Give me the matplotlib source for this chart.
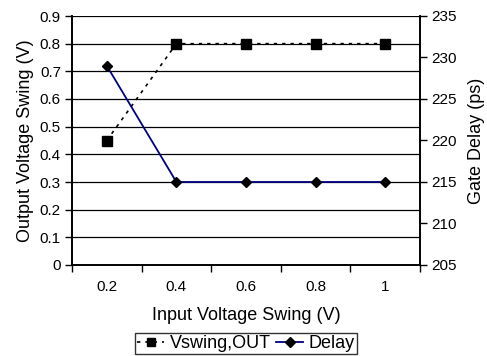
import matplotlib
matplotlib.use("Agg")
import matplotlib.pyplot as plt
from matplotlib.ticker import FixedLocator, NullFormatter, FixedFormatter
from matplotlib.lines import Line2D

plt.rcParams['font.family'] = ['Liberation Sans', 'DejaVu Sans']

categories = ["0.2", "0.4", "0.6", "0.8", "1"]
vswing_out = [0.45, 0.8, 0.8, 0.8, 0.8]
delay_ps = [229, 215, 215, 215, 215]
left_ticks = [0, 0.1, 0.2, 0.3, 0.4, 0.5, 0.6, 0.7, 0.8, 0.9]
right_ticks = [205, 210, 215, 220, 225, 230, 235]

W, H = 487, 356
fig = plt.figure(figsize=(W/100, H/100), dpi=100)
ax = fig.add_axes([72/W, 1-265/H, (420-72)/W, (265-16)/H])
ax2 = ax.twinx()

x = list(range(len(categories)))
tfs = 11
lfs = 13

ax.set_ylim(0, 0.9)
ax.set_yticks(left_ticks)
ax.set_yticklabels(["0" if v == 0 else f"{v:.1f}" for v in left_ticks])
for v in left_ticks[1:]:
    ax.axhline(v, color='black', lw=0.9, zorder=1)
ax.set_xlim(-0.5, len(categories) - 0.5)
ax.xaxis.set_major_locator(FixedLocator([i - 0.5 for i in range(len(categories) + 1)]))
ax.xaxis.set_major_formatter(NullFormatter())
ax.xaxis.set_minor_locator(FixedLocator(x))
ax.xaxis.set_minor_formatter(FixedFormatter(categories))
ax.tick_params(axis='x', which='major', direction='out', length=5, width=1)
ax.tick_params(axis='x', which='minor', length=0, pad=11, labelsize=tfs)
ax.tick_params(axis='y', direction='out', length=5, width=1, labelsize=tfs, pad=3)

ax2.set_ylim(205, 235)
ax2.set_yticks(right_ticks)
ax2.tick_params(axis='y', direction='out', length=5, width=1, labelsize=tfs, pad=3)

for a in (ax, ax2):
    a.spines['top'].set_visible(False)
    for s in ('left', 'right', 'bottom'):
        a.spines[s].set_linewidth(1.2)

ax.plot(x, vswing_out, color='black', linestyle=(0, (2, 3)), lw=1.2,
        marker='s', markersize=7, zorder=5, clip_on=False)
ax2.plot(x, delay_ps, color='#000080', linestyle='-', lw=1.3,
         marker='D', markersize=5, markerfacecolor='black', markeredgecolor='black', zorder=5)

ax.set_xlabel("Input Voltage Swing (V)", fontsize=lfs, labelpad=9)
ax.set_ylabel("Output Voltage Swing (V)", fontsize=lfs, labelpad=4)
ax2.set_ylabel("Gate Delay (ps)", fontsize=lfs, labelpad=8)

handles = [
    Line2D([], [], color='black', linestyle=(0, (2, 3)), lw=1.2, marker='s', markersize=6),
    Line2D([], [], color='#000080', linestyle='-', lw=1.3, marker='D', markersize=5,
           markerfacecolor='black', markeredgecolor='black'),
]
leg = fig.legend(handles, ["Vswing,OUT", "Delay"], loc='upper center',
                 bbox_to_anchor=(246/W, 1 - 333/H), ncol=2, fontsize=lfs, frameon=True,
                 fancybox=False, handlelength=1.5, handletextpad=0.3, columnspacing=0.3,
                 borderpad=0.12, borderaxespad=0.0)
leg.get_frame().set_edgecolor('black')
leg.get_frame().set_linewidth(1.0)

fig.savefig("out.png", dpi=100)
